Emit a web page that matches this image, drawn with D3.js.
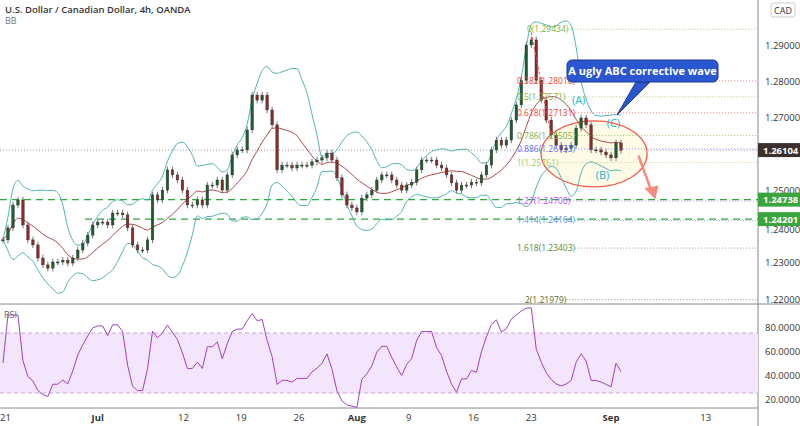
<!DOCTYPE html><html><head><meta charset="utf-8">
<script src="https://cdn.jsdelivr.net/npm/d3@7"></script>
<style>body{margin:0;background:#fff}svg{font-family:"Open Sans",sans-serif}</style></head><body>
<svg id="c" width="800" height="426"></svg>
<script>
const closes=[1.2363,1.2396,1.2459,1.2473,1.2404,1.2363,1.2349,1.2313,1.2294,1.2285,1.2302,1.2302,1.2307,1.2299,1.2313,1.2335,1.2354,1.2376,1.2404,1.2412,1.2412,1.2404,1.2437,1.2437,1.2432,1.2396,1.2349,1.2335,1.2335,1.2363,1.2487,1.2473,1.2500,1.2556,1.2542,1.2528,1.2500,1.2459,1.2459,1.2473,1.2459,1.2514,1.2514,1.2528,1.2500,1.2542,1.2597,1.2611,1.2611,1.2666,1.2762,1.2748,1.2762,1.2721,1.2680,1.2556,1.2569,1.2569,1.2561,1.2569,1.2569,1.2569,1.2578,1.2583,1.2589,1.2602,1.2583,1.2534,1.2487,1.2459,1.2451,1.2440,1.2478,1.2487,1.2500,1.2528,1.2542,1.2542,1.2528,1.2514,1.2500,1.2514,1.2522,1.2556,1.2583,1.2583,1.2583,1.2569,1.2561,1.2542,1.2520,1.2500,1.2514,1.2514,1.2522,1.2520,1.2542,1.2569,1.2611,1.2638,1.2624,1.2638,1.2693,1.2735,1.2803,1.2900,1.2914,1.2803,1.2748,1.2693,1.2652,1.2624,1.2611,1.2616,1.2624,1.2671,1.2699,1.2680,1.2611,1.2611,1.2605,1.2597,1.2589,1.2630,1.2610];
const dateLabels=[["21",0.5],["Jul",19],["12",36.2],["19",47.8],["26",59.4],["Aug",71],["9",81.4],["16",94.4],["23",106],["Sep",122],["13",141]];
const priceTicks=[1.22,1.23,1.24,1.25,1.27,1.28,1.29];
const rsiTicks=[20,40,60,80];
const fibRatios=["0","0.382","0.5","0.618","0.786","0.886","1","1.27","1.414","1.618","2"];
const fibPrices=[1.29434,1.28010,1.27571,1.27131,1.26505,1.26133,1.25761,1.24700,1.24164,1.23403,1.21979];
const fibColors=["#7cb342","#f44336","#7cb342","#f44336","#7cb342","#5b6bff","#9ccc65","#b44dff","#4a90e2","#558b2f","#556b2f"];
const supports=[1.24738,1.24201];
const lastPrice=1.26104;

const svg=d3.select("#c");
const W=758;
const x=d3.scaleLinear().domain([0,124]).range([3,621]);
const y=d3.scaleLinear().domain([1.22,1.29]).range([299,45]);
const yr=d3.scaleLinear().domain([20,80]).range([399,327]);
const data=closes.map((c,i)=>{const o=i?closes[i-1]:c;return{i,o,c,h:Math.max(o,c)+0.0009,l:Math.min(o,c)-0.0009};});
const N=10;const bb=data.map((d,i)=>{const s=closes.slice(Math.max(0,i-N+1),i+1);const m=d3.mean(s),sd=d3.deviation(s)||0;return{i,m,u:m+2*sd,lo:m-2*sd};});
const P=6;let ag=0,al=0;const rsi=closes.map((c,i)=>{if(!i)return 50;const ch=c-closes[i-1];const g=Math.max(ch,0),l=Math.max(-ch,0);ag=(ag*(P-1)+g)/P;al=(al*(P-1)+l)/P;return al===0?90:100-100/(1+ag/al);});

svg.append("line").attr("x1",W).attr("x2",W).attr("y1",0).attr("y2",426).attr("stroke","#888");
svg.append("line").attr("x1",0).attr("x2",800).attr("y1",304).attr("y2",304).attr("stroke","#888");
svg.append("line").attr("x1",0).attr("x2",W).attr("y1",408).attr("y2",408).attr("stroke","#888");
const ax=svg.append("g").attr("font-size",9.5).attr("fill","#333");
priceTicks.forEach(t=>ax.append("text").attr("x",765).attr("y",y(t)+(t===1.24?7:3.5)).text(t.toFixed(5)));
rsiTicks.forEach(t=>ax.append("text").attr("x",765).attr("y",yr(t)+3.5).text(t.toFixed(4)));
dateLabels.forEach(([t,i])=>ax.append("text").attr("x",x(i)).attr("y",421).attr("text-anchor","middle").attr("font-weight",/[a-z]/i.test(t)?"bold":"normal").text(t));
svg.append("rect").attr("x",771).attr("y",3).attr("width",24).attr("height",14).attr("rx",2).attr("fill","#fff").attr("stroke","#ccc");
svg.append("text").attr("x",783).attr("y",13.5).attr("text-anchor","middle").attr("font-size",9).attr("fill","#333").text("CAD");

svg.append("line").attr("x1",0).attr("x2",W).attr("y1",y(lastPrice)).attr("y2",y(lastPrice)).attr("stroke","#999").attr("stroke-dasharray","1,2");
supports.forEach((s,k)=>{
  svg.append("line").attr("x1",k?85:0).attr("x2",W).attr("y1",y(s)).attr("y2",y(s)).attr("stroke","#2eaa3c").attr("stroke-width",1.3).attr("stroke-dasharray","7,5");
  svg.append("rect").attr("x",W).attr("y",y(s)-7).attr("width",42).attr("height",14).attr("fill","#3aa540");
  svg.append("text").attr("x",763).attr("y",y(s)+3.5).attr("font-size",9.5).attr("font-weight","bold").attr("fill","#fff").text(s.toFixed(5));
});
svg.append("rect").attr("x",W).attr("y",y(lastPrice)-7).attr("width",42).attr("height",14).attr("fill","#3c2f2f");
svg.append("text").attr("x",763).attr("y",y(lastPrice)+3.5).attr("font-size",9.5).attr("font-weight","bold").attr("fill","#fff").text(lastPrice.toFixed(5));

svg.append("ellipse").attr("cx",x(118.6)).attr("cy",y(1.26)).attr("rx",53).attr("ry",33).attr("fill","#fffbe6").attr("stroke","#f25a4a").attr("stroke-width",1.3);

const ln=k=>d3.line().x(d=>x(d.i)).y(d=>y(d[k])).curve(d3.curveMonotoneX);
svg.append("path").datum(bb).attr("d",ln("u")).attr("fill","none").attr("stroke","#4fb3b3").attr("stroke-width",1);
svg.append("path").datum(bb).attr("d",ln("lo")).attr("fill","none").attr("stroke","#4fb3b3").attr("stroke-width",1);
svg.append("path").datum(bb).attr("d",ln("m")).attr("fill","none").attr("stroke","#b04848").attr("stroke-width",1);
const cg=svg.append("g");
data.forEach(d=>{
  const up=d.c>=d.o;
  cg.append("line").attr("x1",x(d.i)).attr("x2",x(d.i)).attr("y1",y(d.h)).attr("y2",y(d.l)).attr("stroke","#777");
  cg.append("rect").attr("x",x(d.i)-1.3).attr("width",2.6).attr("y",y(Math.max(d.o,d.c))).attr("height",Math.max(1,Math.abs(y(d.o)-y(d.c)))).attr("fill",up?"#1f5c2e":"#8b2a2a").attr("stroke","#333").attr("stroke-width",0.4);
});
fibPrices.forEach((p,k)=>{
  const lx=k===0?527:(k===10?525:517);
  const g=svg.append("g");
  const t=g.append("text").attr("x",lx).attr("y",y(p)+3).attr("font-size",8.5).attr("fill",fibColors[k]).text(fibRatios[k]+"("+p.toFixed(5)+")");
  const wdt=t.node().getComputedTextLength();
  g.append("line").attr("x1",lx+wdt).attr("x2",W).attr("y1",y(p)).attr("y2",y(p)).attr("stroke",fibColors[k]).attr("stroke-dasharray","1,2").attr("opacity",0.7);
});
svg.append("line").attr("x1",x(106)).attr("y1",y(1.2935)).attr("x2",x(110)).attr("y2",y(1.265)).attr("stroke","#f44").attr("stroke-dasharray","3,2");
svg.append("line").attr("x1",x(127.5)).attr("y1",y(1.2595)).attr("x2",x(130.3)).attr("y2",y(1.249)).attr("stroke","#f58a80").attr("stroke-width",2.5);
svg.append("path").attr("d",`M${x(130.3)-8},${y(1.2505)} L${x(130.3)+3},${y(1.2475)} L${x(130.3)+6},${y(1.2513)} Z`).attr("fill","#f58a80");
[["(A)",115.5,1.2737],["(C)",122.5,1.2675],["(B)",120.3,1.2530]].forEach(([t,i,p])=>svg.append("text").attr("x",x(i)).attr("y",y(p)).attr("text-anchor","middle").attr("font-size",11).attr("fill","#22b5d0").text(t));
svg.append("path").attr("d","M636,82 L617,115 L650,82 Z").attr("fill","#2a57d0").attr("stroke","#1a3a90");
svg.append("rect").attr("x",567).attr("y",60).attr("width",151).attr("height",22).attr("rx",5).attr("fill","#2a57d0").attr("stroke","#1a3a90");
svg.append("text").attr("x",642.5).attr("y",75).attr("text-anchor","middle").attr("font-size",11).attr("font-weight","bold").attr("fill","#fff").text("A ugly ABC corrective wave");

svg.append("rect").attr("x",0).attr("y",yr(75)).attr("width",W).attr("height",yr(25)-yr(75)).attr("fill","#f3e5fc");
[75,25].forEach(v=>svg.append("line").attr("x1",0).attr("x2",W).attr("y1",yr(v)).attr("y2",yr(v)).attr("stroke","#c8a8d8").attr("stroke-dasharray","4,3"));
svg.append("path").datum(rsi).attr("d",d3.line().x((d,i)=>x(i)).y(d=>yr(d))).attr("fill","none").attr("stroke","#a040c0").attr("stroke-width",1);
svg.append("text").attr("x",4).attr("y",318).attr("font-size",9).attr("fill","#666").text("RSI");

svg.append("text").attr("x",5).attr("y",13).attr("font-size",9.5).attr("font-weight","600").attr("fill","#333").text("U.S. Dollar / Canadian Dollar, 4h, OANDA");
svg.append("text").attr("x",5).attr("y",24).attr("font-size",9).attr("fill","#777").text("BB");
</script></body></html>
